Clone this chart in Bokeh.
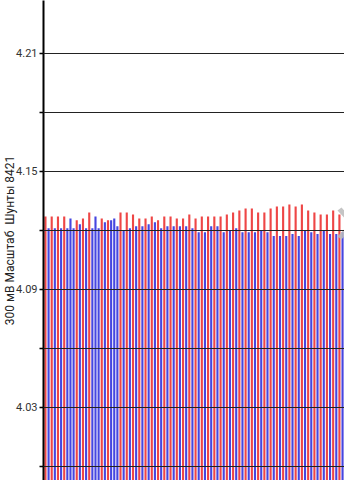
from bokeh.plotting import figure
from bokeh.models import Range1d, FixedTicker, ColumnDataSource, PolyAnnotation, Label
from bokeh.transform import factor_cmap
from bokeh.embed import file_html
from bokeh.resources import INLINE

# ---- data ----
cell_index = list(range(96))
cell_voltage = [
    4.127, 4.121, 4.127, 4.121, 4.127, 4.121, 4.127, 4.121,
    4.126, 4.121, 4.125, 4.123, 4.126, 4.121, 4.129, 4.121,
    4.127, 4.121, 4.126, 4.124, 4.125, 4.125, 4.126, 4.122,
    4.129, 4.120, 4.129, 4.121, 4.128, 4.122, 4.126, 4.122,
    4.126, 4.123, 4.127, 4.124, 4.125, 4.121, 4.127, 4.122,
    4.127, 4.122, 4.126, 4.122, 4.126, 4.122, 4.128, 4.121,
    4.126, 4.119, 4.127, 4.119, 4.127, 4.122, 4.127, 4.122,
    4.127, 4.119, 4.128, 4.120, 4.129, 4.121, 4.130, 4.119,
    4.131, 4.119, 4.131, 4.119, 4.129, 4.120, 4.129, 4.119,
    4.131, 4.117, 4.132, 4.117, 4.132, 4.117, 4.133, 4.118,
    4.132, 4.117, 4.133, 4.120, 4.130, 4.119, 4.129, 4.118,
    4.128, 4.120, 4.128, 4.118, 4.130, 4.118, 4.128, 4.119,
]
cell_group = ["R", "B"] * 48
for k in (8, 16, 22):
    cell_group[k] = "B"

tick_values = [4.00, 4.03, 4.06, 4.09, 4.12, 4.15, 4.18, 4.21]
tick_labels = ["", "4.03", "", "4.09", "", "4.15", "", "4.21"]
axis_title = "300 мВ Масштаб\u00a0 Шунты 8421"

RED = "#ee4646"
BLUE = "#4646e0"
FH = 480

src = ColumnDataSource(dict(idx=cell_index, v=cell_voltage, grp=cell_group))

p = figure(width=344, height=FH, output_backend="svg", toolbar_location=None,
           x_axis_location=None,
           x_range=Range1d(-0.625, 95.625), y_range=Range1d(3.9927, 4.2368),
           min_border_left=0, min_border_right=0, min_border_top=0, min_border_bottom=0)
p.outline_line_color = None
p.background_fill_color = "white"
p.border_fill_color = "white"

p.vbar(x="idx", top="v", bottom=3.9, width=0.68, source=src, line_color=None,
       fill_color=factor_cmap("grp", palette=[RED, BLUE], factors=["R", "B"]))

ax = p.yaxis[0]
ax.ticker = FixedTicker(ticks=tick_values, minor_ticks=[])
ax.major_label_overrides = {v: lab for v, lab in zip(tick_values, tick_labels)}
ax.axis_line_color = "black"
ax.axis_line_width = 2
ax.major_tick_out = 4
ax.major_tick_in = 0
ax.major_tick_line_color = "black"
ax.major_tick_line_width = 1.5
ax.minor_tick_line_color = None
ax.major_label_text_font = "Roboto"
ax.major_label_text_font_size = "11px"
ax.major_label_text_color = "#333333"
ax.major_label_standoff = 2
ax.axis_label = axis_title
ax.axis_label_text_font = "Roboto"
ax.axis_label_text_font_size = "12px"
ax.axis_label_text_font_style = "normal"
ax.axis_label_text_color = "#222222"
ax.axis_label_standoff = -4

p.xgrid.visible = False
p.ygrid.grid_line_color = "#222222"
p.ygrid.grid_line_width = 1.2
p.ygrid.level = "overlay"

# faint carousel chevrons (screen units: relative to frame, y from bottom)
p.add_layout(Label(x=-38, y=FH - 240, x_units="screen", y_units="screen", text="\u276e",
                   text_font="DejaVu Sans", text_font_size="26px", text_color="#999999",
                   text_alpha=0.6))
p.add_layout(PolyAnnotation(xs=[294, 298, 312, 298, 294, 306],
                            ys=[FH - 210, FH - 207, FH - 223, FH - 239, FH - 236, FH - 223],
                            xs_units="screen", ys_units="screen",
                            fill_color="#bbbbbb", fill_alpha=0.85, line_color=None))

open("out.html", "w").write(file_html(p, INLINE))
